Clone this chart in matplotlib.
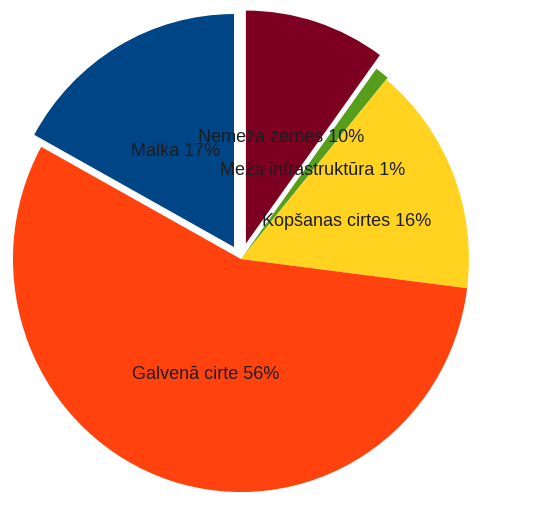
import matplotlib.pyplot as plt

# forest-use shares, clockwise from the top
names = ["Nemeža zemes", "Meža infrastruktūra", "Kopšanas cirtes", "Galvenā cirte", "Malka"]
shares = [10, 1, 16, 56, 17]
colors = ["#7E0021", "#579D1C", "#FFD320", "#FF420E", "#004586"]
explode = [0.07, 0.01, 0, 0, 0.06]

plt.rcParams['font.family'] = ['Liberation Sans', 'DejaVu Sans']

fig = plt.figure(figsize=(5.51, 5.30), dpi=100)
ax = fig.add_axes([0, 0, 1, 1])

wedges, texts, autotexts = ax.pie(shares, colors=colors, explode=explode,
                                  startangle=90, counterclock=False,
                                  autopct='%d%%', pctdistance=0.5,
                                  wedgeprops=dict(linewidth=0))
for t, name, v in zip(autotexts, names, shares):
    t.set_text(f"{name} {v}%")
    t.set_fontsize(13)
    t.set_color("#1e1e1e")
    # labels sit a touch below the wedge centroid line
    x, y = t.get_position()
    t.set_position((x, y - 0.022))

# slightly taller than wide
ax.set_aspect('auto')
ax.set_xlim(-1.057, 1.360)
ax.set_ylim(-1.163, 1.112)

plt.savefig('out.png')
